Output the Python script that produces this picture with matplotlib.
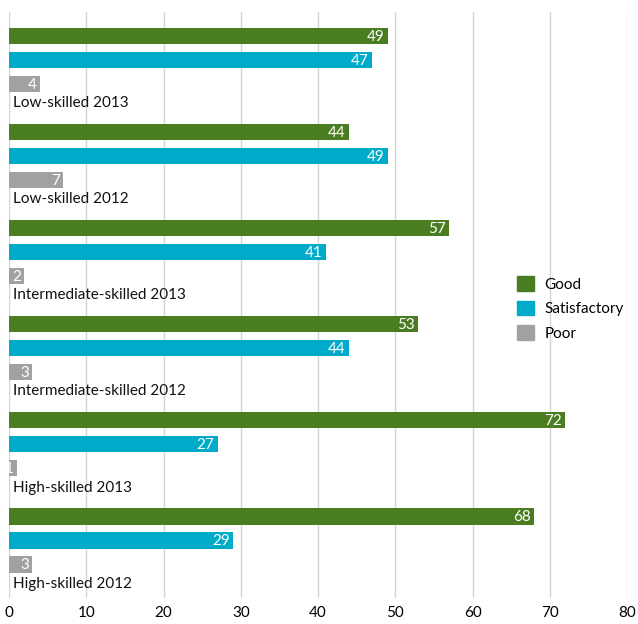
import matplotlib
matplotlib.use("Agg")
import matplotlib.pyplot as plt
from matplotlib.patches import Patch

plt.rcParams['font.family'] = ['Lato', 'DejaVu Sans']

groups = ['Low-skilled 2013', 'Low-skilled 2012', 'Intermediate-skilled 2013',
          'Intermediate-skilled 2012', 'High-skilled 2013', 'High-skilled 2012']
good = [49, 44, 57, 53, 72, 68]
satisfactory = [47, 49, 41, 44, 27, 29]
poor = [4, 7, 2, 3, 1, 3]

series = ['Good', 'Satisfactory', 'Poor']
colors = ['#4a7c22', '#00abc9', '#a1a1a1']

fig = plt.figure(figsize=(6.38, 6.24), dpi=100)
ax = fig.add_axes([9 / 638, 26 / 624, 618 / 638, 586 / 624])

for g, name in enumerate(groups):
    vals = [good[g], satisfactory[g], poor[g]]
    for k, v in enumerate(vals):
        y = 4 * g + k
        ax.barh(y, v, height=0.68, color=colors[k], zorder=2)
        ax.text(v - 0.4, y + 0.03, str(v), color='white', ha='right', va='center',
                fontsize=11, zorder=3)
    ax.text(0.5, 4 * g + 2.8, name, ha='left', va='center', fontsize=11, color='#111111')

ax.set_xlim(0, 80)
ax.set_ylim(23.4, -1)
ax.set_xticks(range(0, 81, 10))
ax.set_yticks([])
ax.grid(axis='x', color='#d4d4d4', linewidth=1, zorder=0)
for s in ax.spines.values():
    s.set_visible(False)
ax.tick_params(axis='x', length=0, labelsize=11, pad=6)

handles = [Patch(color=c, label=l) for c, l in zip(colors, series)]
ax.legend(handles=handles, loc='center left', bbox_to_anchor=(0.80, 0.494), frameon=False,
          fontsize=11, handlelength=1.1, handleheight=1.1, handletextpad=0.7, labelspacing=0.6)

fig.savefig('out.png', dpi=100)
